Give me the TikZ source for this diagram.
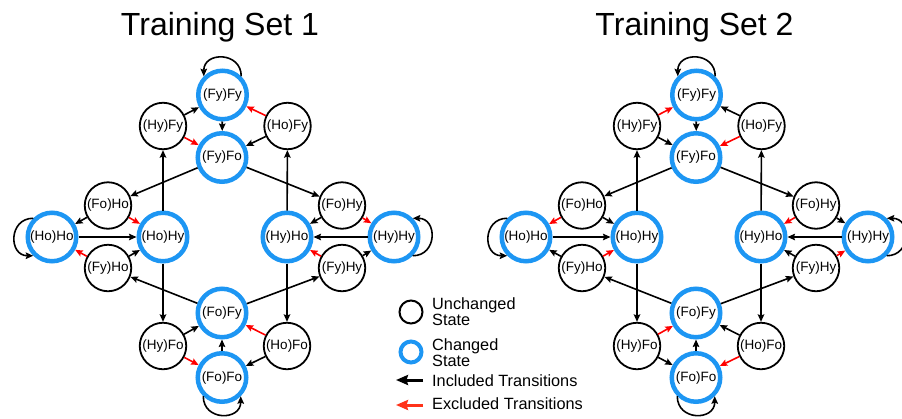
\documentclass[tikz,border=0pt]{standalone}
\usepackage{fontspec}
\setmainfont{Liberation Sans}
\usetikzlibrary{arrows.meta}

\definecolor{stateblue}{RGB}{29,150,243}
\definecolor{exred}{RGB}{255,0,0}
\definecolor{keyred}{RGB}{255,50,25}

\tikzset{
  statebase/.style={circle, inner sep=0pt, fill=white, font=\fontsize{13.5}{14}\selectfont},
  plainstate/.style={statebase, draw=black, line width=1.8pt, minimum size=46.5pt},
  changedstate/.style={statebase, draw=stateblue, line width=4.5pt, minimum size=48.5pt},
  trans/.style={line width=1.6pt, -{Stealth[length=7.5pt,width=6.5pt,inset=1.2pt]}},
  inc/.style={trans, draw=black},
  exc/.style={trans, draw=exred},
  selfloop/.style={inc, looseness=1.7},
  keyarrow/.style={line width=3pt, -{Stealth[length=12pt,width=10pt,inset=1.5pt]}},
  legtext/.style={inner sep=0pt, align=left, font=\fontsize{16.3}{14.5}\selectfont},
  titletext/.style={inner sep=0pt, font=\fontsize{32}{34}\selectfont},
}

% One state-transition graph; grpA / grpB set the colour of the swapped transitions
\newcommand\stategraph{%
  \node[changedstate] (FyFy) at (222.5,95)  {(Fy)Fy};
  \node[plainstate]   (HyFy) at (163,126)   {(Hy)Fy};
  \node[plainstate]   (HoFy) at (287.5,126) {(Ho)Fy};
  \node[changedstate] (FyFo) at (222,157.5) {(Fy)Fo};
  \node[plainstate]   (FoHo) at (108,205.5) {(Fo)Ho};
  \node[changedstate] (HoHo) at (52,237)    {(Ho)Ho};
  \node[changedstate] (HoHy) at (163,237)   {(Ho)Hy};
  \node[plainstate]   (FyHo) at (108,268)   {(Fy)Ho};
  \node[changedstate] (HyHo) at (287,237)   {(Hy)Ho};
  \node[plainstate]   (FoHy) at (342,205.5) {(Fo)Hy};
  \node[changedstate] (HyHy) at (394,237)   {(Hy)Hy};
  \node[plainstate]   (FyHy) at (342,268)   {(Fy)Hy};
  \node[changedstate] (FoFy) at (222,313)   {(Fo)Fy};
  \node[plainstate]   (HyFo) at (163,346)   {(Hy)Fo};
  \node[plainstate]   (HoFo) at (287,346)   {(Ho)Fo};
  \node[changedstate] (FoFo) at (222,377.5) {(Fo)Fo};
  % self transitions
  \draw[selfloop] (FyFy.45)  to[out=90,in=90]   (FyFy.135);
  \draw[selfloop] (HoHo.135) to[out=180,in=180] (HoHo.225);
  \draw[selfloop] (HyHy.315) to[out=0,in=0]     (HyHy.45);
  \draw[selfloop] (FoFo.225) to[out=270,in=270] (FoFo.315);
  % top cluster
  \draw[inc]  (FyFy) -- (FyFo);
  \draw[grpB] (HyFy) -- (FyFy);
  \draw[grpA] (HyFy) -- (FyFo);
  \draw[grpA] (HoFy) -- (FyFy);
  \draw[grpB] (HoFy) -- (FyFo);
  % left cluster
  \draw[inc]  (HoHo) -- (HoHy);
  \draw[grpB] (FoHo) -- (HoHo);
  \draw[grpA] (FoHo) -- (HoHy);
  \draw[grpA] (FyHo) -- (HoHo);
  \draw[grpB] (FyHo) -- (HoHy);
  % right cluster
  \draw[inc]  (HyHy) -- (HyHo);
  \draw[grpB] (FoHy) -- (HyHo);
  \draw[grpA] (FoHy) -- (HyHy);
  \draw[grpA] (FyHy) -- (HyHo);
  \draw[grpB] (FyHy) -- (HyHy);
  % bottom cluster
  \draw[inc]  (FoFo) -- (FoFy);
  \draw[grpB] (HyFo) -- (FoFy);
  \draw[grpA] (HyFo) -- (FoFo);
  \draw[grpA] (HoFo) -- (FoFy);
  \draw[grpB] (HoFo) -- (FoFo);
  % links between clusters
  \draw[inc] (HoHy) -- (HyFy);
  \draw[inc] (HoHy) -- (HyFo);
  \draw[inc] (HyHo) -- (HoFy);
  \draw[inc] (HyHo) -- (HoFo);
  \draw[inc] (FyFo) -- (FoHo);
  \draw[inc] (FyFo) -- (FoHy);
  \draw[inc] (FoFy) -- (FyHo);
  \draw[inc] (FoFy) -- (FyHy);
}

\begin{document}
\begin{tikzpicture}[x=1pt, y=-1pt]
  \useasboundingbox (0,0) rectangle (902,418);

  % titles
  \node[titletext, anchor=base] (title1) at (220,35)   {Training Set 1};
  \node[titletext, anchor=base] (title2) at (694.5,35) {Training Set 2};

  \begin{scope}[name prefix=L-, grpA/.style={exc}, grpB/.style={inc}]
    \stategraph
  \end{scope}
  \begin{scope}[shift={(474,0)}, name prefix=R-, grpA/.style={inc}, grpB/.style={exc}]
    \stategraph
  \end{scope}

  % legend
  \node[plainstate, minimum size=23pt, line width=2pt] (keyU) at (411,312) {};
  \node[changedstate, minimum size=21pt, line width=4pt] (keyC) at (411,352) {};
  \node[legtext, anchor=west] (keyUt) at (432,312)   {Unchanged\\State};
  \node[legtext, anchor=west] (keyCt) at (432,352.5) {Changed\\State};
  \coordinate (keyIa) at (423,380);
  \coordinate (keyIb) at (396,380);
  \coordinate (keyEa) at (423,405);
  \coordinate (keyEb) at (396,405);
  \draw[keyarrow, draw=black]  (keyIa) -- (keyIb);
  \draw[keyarrow, draw=keyred] (keyEa) -- (keyEb);
  \node[legtext, anchor=base west] (keyI) at (432,386.5) {Included Transitions};
  \node[legtext, anchor=base west] (keyE) at (432,409.5) {Excluded Transitions};
\end{tikzpicture}
\end{document}
